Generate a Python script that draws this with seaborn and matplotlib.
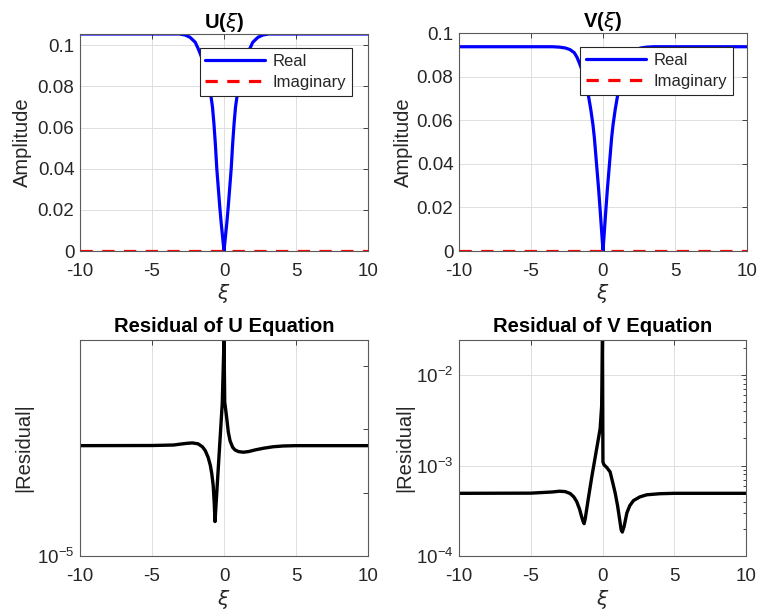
import matplotlib
matplotlib.use("Agg")
import matplotlib.pyplot as plt
import matplotlib.ticker as mticker
import seaborn as sns

# ---------------- data ----------------
xi_U = [-10, -5, -3.1, -2.7, -2.36, -2.0, -1.8, -1.55, -1.2, -0.9, -0.8, -0.7, -0.6, -0.5,
        -0.4, -0.3, -0.2, -0.1, 0,
        0.1, 0.2, 0.3, 0.4, 0.5, 0.6, 0.7, 0.8, 0.9, 1.2, 1.55, 1.8, 2.0, 2.36, 2.7, 3.1, 5, 10]
U_real = [0.1055, 0.1055, 0.1055, 0.1050, 0.1039, 0.1015, 0.0985, 0.0941, 0.0860, 0.0750,
          0.0700, 0.0620, 0.0520, 0.0400, 0.0310, 0.0220, 0.0140, 0.0070, 0.0,
          0.0070, 0.0140, 0.0220, 0.0310, 0.0400, 0.0520, 0.0620, 0.0700, 0.0750, 0.0860,
          0.0941, 0.0985, 0.1015, 0.1039, 0.1050, 0.1055, 0.1055, 0.1055]
xi_imag = [-10, 10]
U_imag = [0.0, 0.0]

xi_V = [-10, -5, -3.5, -3.0, -2.6, -2.3, -2.0, -1.8, -1.6, -1.4, -1.2, -1.0, -0.85, -0.7,
        -0.6, -0.45, -0.3, -0.2, -0.1, 0,
        0.1, 0.2, 0.3, 0.45, 0.6, 0.7, 0.85, 1.0, 1.2, 1.4, 1.6, 1.8, 2.0, 2.3, 2.6, 3.0,
        3.5, 5, 10]
V_real = [0.0937, 0.0937, 0.0937, 0.0935, 0.0931, 0.0924, 0.0910, 0.0888, 0.0855, 0.0820,
          0.0770, 0.0708, 0.0650, 0.0580, 0.0520, 0.0400, 0.0280, 0.0190, 0.0095, 0.0,
          0.0095, 0.0190, 0.0280, 0.0400, 0.0520, 0.0580, 0.0650, 0.0708, 0.0770, 0.0820,
          0.0855, 0.0888, 0.0910, 0.0924, 0.0931, 0.0935, 0.0937, 0.0937, 0.0937]
V_imag = [0.0, 0.0]

xi_resU = [-10, -5, -3.5, -3.0, -2.6, -2.2, -1.8, -1.5, -1.3, -1.1, -0.95, -0.85, -0.75,
           -0.68, -0.625, -0.12, 0,
           0.05, 0.19, 0.3, 0.42, 0.6, 0.76, 1.0, 1.34, 1.7, 2.2, 2.73, 3.4, 4.12, 5, 10]
res_U = [5.52e-4, 5.55e-4, 5.65e-4, 5.85e-4, 6.0e-4, 6.1e-4, 5.9e-4, 5.3e-4, 4.6e-4, 3.6e-4,
         2.7e-4, 2.0e-4, 1.3e-4, 7.0e-5, 3.5e-5, 2.6e-3, 2.57e-2,
         2.7e-3, 1.5e-3, 9.0e-4, 6.6e-4, 5.2e-4, 4.73e-4, 4.45e-4, 4.35e-4, 4.45e-4, 4.75e-4,
         5.02e-4, 5.3e-4, 5.46e-4, 5.52e-4, 5.52e-4]

xi_resV = [-10, -5, -3.5, -3.0, -2.6, -2.25, -2.0, -1.8, -1.6, -1.45, -1.35, -1.28, -1.2,
           -1.0, -0.74, -0.45, -0.164, -0.06, 0,
           0.03, 0.1, 0.3, 0.53, 0.7, 0.88, 1.05, 1.2, 1.3, 1.38, 1.5, 1.7, 1.9, 2.16, 2.6,
           3.09, 4.0, 5, 10]
res_V = [4.93e-4, 4.95e-4, 5.1e-4, 5.2e-4, 5.15e-4, 4.9e-4, 4.5e-4, 4.0e-4, 3.3e-4, 2.7e-4,
         2.4e-4, 2.28e-4, 2.6e-4, 4.2e-4, 7.6e-4, 1.4e-3, 2.56e-3, 4.5e-3, 2.44e-2,
         1.1e-3, 1.02e-3, 9.5e-4, 8.5e-4, 6.6e-4, 5.0e-4, 3.6e-4, 2.5e-4, 1.95e-4, 1.84e-4,
         2.1e-4, 3.0e-4, 3.6e-4, 4.1e-4, 4.5e-4, 4.75e-4, 4.88e-4, 4.93e-4, 4.93e-4]

x_ticks = [-10, -5, 0, 5, 10]
amp_ticks = [0, 0.02, 0.04, 0.06, 0.08, 0.1]
amp_labels = ["0", "0.02", "0.04", "0.06", "0.08", "0.1"]

# ---------------- style ----------------
sns.set_theme(style="white")
plt.rcParams["font.family"] = ["Liberation Sans", "DejaVu Sans"]
plt.rcParams["axes.unicode_minus"] = False
plt.rcParams["mathtext.fontset"] = "dejavusans"

DARK = "#262626"
GRID = "#dedede"
TICK_FS = 13.5
LAB_FS = 14.5
TITLE_FS = 14.5

fig = plt.figure(figsize=(7.61, 6.13), dpi=100)
W, H = 761, 613


def box(l, t, r, b):
    return [l / W, 1 - b / H, (r - l) / W, (b - t) / H]


ax1 = fig.add_axes(box(80, 34, 368, 251))
ax2 = fig.add_axes(box(459, 33, 747, 251))
ax3 = fig.add_axes(box(80, 340, 368, 556))
ax4 = fig.add_axes(box(459, 340, 746, 556))


def style_axes(ax):
    for s in ax.spines.values():
        s.set_color("#5a5a5a")
        s.set_linewidth(0.8)
        s.set_visible(True)
    ax.tick_params(axis="both", which="both", direction="in", top=True, right=True,
                   colors=DARK, labelsize=TICK_FS, length=3.5, width=0.6)
    ax.tick_params(axis="y", which="both", pad=4)
    ax.tick_params(axis="x", which="both", pad=8.5)
    ax.tick_params(axis="both", which="minor", length=2)
    ax.set_xlim(-10, 10)
    ax.set_xticks(x_ticks)
    ax.set_xticklabels([str(v) for v in x_ticks])


def amp_panel(ax, xr, yr, yi, title, ytop, leg_anchor):
    sns.lineplot(x=xr, y=yr, ax=ax, color="#0000ff", linewidth=2.3, label="Real", sort=True)
    sns.lineplot(x=xi_imag, y=yi, ax=ax, color="#ff0000", linewidth=2.3, linestyle="--",
                 label="Imaginary")
    ax.lines[1].set_dashes([3.85, 2.95])
    style_axes(ax)
    ax.set_ylim(0, ytop)
    ax.set_yticks(amp_ticks)
    ax.set_yticklabels(amp_labels)
    ax.grid(True, color=GRID, linewidth=0.7)
    ax.set_axisbelow(True)
    ax.set_title(title, fontsize=TITLE_FS, fontweight="bold", color="black", pad=4)
    ax.set_ylabel("Amplitude", fontsize=LAB_FS, color=DARK)
    ax.set_xlabel(r"$\xi$", fontsize=LAB_FS, color=DARK)
    leg = ax.legend(loc="upper right", bbox_to_anchor=leg_anchor, borderaxespad=0,
                    fontsize=12, handlelength=3.6, handletextpad=0.45, labelspacing=0.4,
                    borderpad=0.35, frameon=True, fancybox=False, framealpha=1)
    leg.get_frame().set_edgecolor(DARK)
    leg.get_frame().set_linewidth(0.8)
    leg.get_lines()[1].set_dashes([3.85, 2.95])
    for t in leg.get_texts():
        t.set_color(DARK)


amp_panel(ax1, xi_U, U_real, U_imag, r"U($\xi$)", 0.1055, (0.9455, 0.937))
amp_panel(ax2, xi_V, V_real, V_imag, r"V($\xi$)", 0.1, (0.950, 0.937))

# residual U
sns.lineplot(x=xi_resU, y=res_U, ax=ax3, color="black", linewidth=2.4)
ax3.set_yscale("log")
style_axes(ax3)
ax3.set_ylim(1e-5, 2.57e-2)
ax3.set_yticks([1e-5, 1e-4, 1e-3, 1e-2])
ax3.set_yticklabels([r"$\mathdefault{10^{-5}}$", "", "", ""])
ax3.yaxis.set_minor_locator(mticker.NullLocator())
ax3.grid(True, axis="x", color=GRID, linewidth=0.7)
ax3.grid(False, axis="y")
ax3.set_axisbelow(True)
ax3.set_title("Residual of U Equation", fontsize=TITLE_FS, fontweight="bold", color="black", pad=5.5)
ax3.set_ylabel("|Residual|", fontsize=LAB_FS, color=DARK)
ax3.set_xlabel(r"$\xi$", fontsize=LAB_FS, color=DARK)

# residual V
sns.lineplot(x=xi_resV, y=res_V, ax=ax4, color="black", linewidth=2.4)
ax4.set_yscale("log")
style_axes(ax4)
ax4.set_ylim(1e-4, 2.44e-2)
ax4.set_yticks([1e-4, 1e-3, 1e-2])
ax4.set_yticklabels([r"$\mathdefault{10^{-4}}$", r"$\mathdefault{10^{-3}}$",
                     r"$\mathdefault{10^{-2}}$"])
ax4.yaxis.set_minor_locator(mticker.LogLocator(base=10, subs=range(2, 10)))
ax4.yaxis.set_minor_formatter(mticker.NullFormatter())
ax4.grid(True, which="major", color=GRID, linewidth=0.7)
ax4.set_axisbelow(True)
ax4.set_title("Residual of V Equation", fontsize=TITLE_FS, fontweight="bold", color="black", pad=5.5)
ax4.set_ylabel("|Residual|", fontsize=LAB_FS, color=DARK)
ax4.set_xlabel(r"$\xi$", fontsize=LAB_FS, color=DARK)

ax1.yaxis.set_label_coords(-0.166, 0.5)
ax2.yaxis.set_label_coords(-0.159, 0.5)
ax3.yaxis.set_label_coords(-0.161, 0.5)
ax4.yaxis.set_label_coords(-0.155, 0.5)
ax1.xaxis.set_label_coords(0.5, -0.142)
ax2.xaxis.set_label_coords(0.5, -0.142)
ax3.xaxis.set_label_coords(0.5, -0.148)
ax4.xaxis.set_label_coords(0.5, -0.148)

fig.savefig("out.png", dpi=100, facecolor="white")
